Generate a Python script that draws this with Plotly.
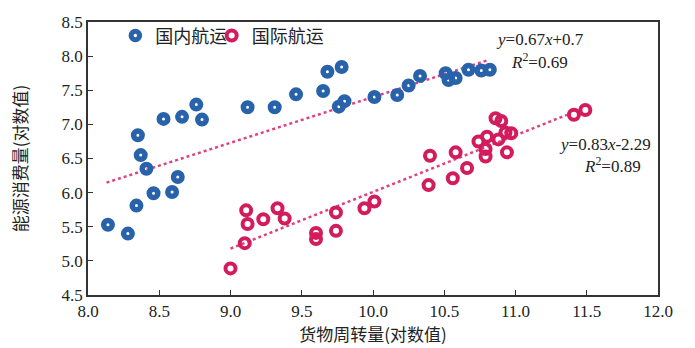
import numpy as np
import plotly.graph_objects as go

# 货物周转量 / 能源消费量 (对数值)
dom_x = [8.14, 8.28, 8.34, 8.35, 8.37, 8.41, 8.46, 8.53, 8.59, 8.63, 8.66, 8.76, 8.80,
         9.12, 9.31, 9.46, 9.65, 9.68, 9.78, 9.76, 9.80, 10.01, 10.17, 10.25, 10.33,
         10.51, 10.53, 10.58, 10.67, 10.76, 10.82]
dom_y = [5.53, 5.40, 5.81, 6.84, 6.55, 6.35, 5.99, 7.08, 6.01, 6.23, 7.11, 7.29, 7.07,
         7.25, 7.25, 7.44, 7.49, 7.77, 7.84, 7.26, 7.34, 7.40, 7.43, 7.57, 7.71,
         7.75, 7.65, 7.68, 7.80, 7.79, 7.80]

intl_x = [9.00, 9.10, 9.11, 9.12, 9.23, 9.33, 9.38, 9.60, 9.60, 9.74, 9.74, 9.94, 10.01,
          10.40, 10.39, 10.58, 10.56, 10.66, 10.74, 10.80, 10.79, 10.79, 10.86, 10.90,
          10.88, 10.93, 10.97, 10.94, 11.41, 11.49]
intl_y = [4.89, 5.26, 5.74, 5.54, 5.61, 5.77, 5.62, 5.41, 5.32, 5.71, 5.44, 5.77, 5.87,
          6.54, 6.11, 6.59, 6.21, 6.36, 6.75, 6.82, 6.64, 6.53, 7.09, 7.05,
          6.78, 6.88, 6.87, 6.59, 7.14, 7.21]

# fitted lines: y = a*x + b, drawn over the x span of each group
dom_fit = (0.67, 0.7)
intl_fit = (0.83, -2.29)
dom_fit_span = [8.13, 10.80]
intl_fit_span = [9.00, 11.36]

BLUE = "#2862AA"
RED = "#D21C5B"
FIT = "#E0407E"
SERIF = "Liberation Serif"
CJK = "Noto Sans CJK SC"

fig = go.Figure()

for (a, b), span in [(dom_fit, dom_fit_span), (intl_fit, intl_fit_span)]:
    lx = np.array(span)
    fig.add_trace(go.Scatter(x=lx, y=a * lx + b, mode="lines", showlegend=False,
                             line=dict(color=FIT, width=2.5, dash="dot"),
                             hoverinfo="skip"))

fig.add_trace(go.Scatter(x=dom_x, y=dom_y, mode="markers", name="国内航运",
                         legend="legend",
                         marker=dict(symbol="circle-open", size=8.5, color=BLUE,
                                     line=dict(color=BLUE, width=5.5))))
fig.add_trace(go.Scatter(x=intl_x, y=intl_y, mode="markers", name="国际航运",
                         legend="legend2",
                         marker=dict(symbol="circle-open", size=10, color=RED,
                                     line=dict(color=RED, width=4))))

eq_font = dict(family=SERIF, size=17, color="#222")
notes = [
    (11.17, 8.24, "<i>y</i>=0.67<i>x</i>+0.7"),
    (11.17, 7.93, "<i>R</i><sup>2</sup>=0.69"),
    (11.63, 6.71, "<i>y</i>=0.83<i>x</i>-2.29"),
    (11.68, 6.40, "<i>R</i><sup>2</sup>=0.89"),
]
for x, y, t in notes:
    fig.add_annotation(x=x, y=y, text=t, showarrow=False, font=eq_font,
                       xanchor="center", yanchor="middle")

axis_common = dict(showgrid=False, zeroline=False, showline=True, linecolor="#333",
                   linewidth=1.5, mirror=True, ticks="inside", ticklen=5,
                   tickwidth=1.2, tickcolor="#333", tickformat=".1f",
                   automargin=False,
                   tickfont=dict(family=SERIF, size=17, color="#222"))

fig.update_xaxes(range=[8, 12], dtick=0.5, **axis_common,
                 title=dict(text="货物周转量(对数值)", standoff=7,
                            font=dict(family=CJK, size=17, color="#222")))
fig.update_yaxes(range=[4.5, 8.5], dtick=0.5, **axis_common,
                 title=dict(text="能源消费量(对数值)", standoff=30,
                            font=dict(family=CJK, size=17, color="#222")))

legend_common = dict(orientation="h", y=1.017, xanchor="left", yanchor="top",
                     bgcolor="rgba(0,0,0,0)", itemwidth=30,
                     font=dict(family=CJK, size=18, color="#222"))

fig.update_layout(
    width=695, height=348,
    margin=dict(l=88, r=37, t=22, b=53),
    paper_bgcolor="white", plot_bgcolor="white",
    showlegend=True,
    legend=dict(x=0.048, **legend_common),
    legend2=dict(x=0.217, **legend_common),
)

fig.write_html("out.html")
